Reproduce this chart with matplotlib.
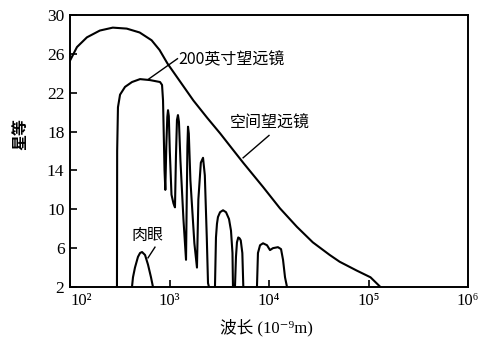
import matplotlib
matplotlib.use("Agg")
import matplotlib.pyplot as plt
import numpy as np

# curves: log10(wavelength / nm) and stellar magnitude
space_loglam = [2.00, 2.07, 2.17, 2.30, 2.43, 2.57, 2.70, 2.82, 2.90, 2.98, 3.11, 3.24,
                3.38, 3.51, 3.64, 3.74, 3.94, 4.11, 4.28, 4.44, 4.61, 4.71, 4.88, 5.02,
                5.10, 5.12]
space_mag = [25.3, 26.7, 27.7, 28.4, 28.7, 28.6, 28.2, 27.4, 26.4, 25.0, 23.1, 21.2,
             19.4, 17.8, 16.1, 14.8, 12.3, 10.1, 8.2, 6.6, 5.3, 4.6, 3.7, 3.0,
             2.2, 2.0]

# 200 inch telescope: main window with the absorption bands
tel_loglam = [2.472, 2.474, 2.482, 2.503, 2.553, 2.623, 2.704, 2.804, 2.905, 2.925,
              2.935, 2.950, 2.958, 2.968, 2.978, 2.985, 2.993, 3.003, 3.020, 3.040,
              3.055, 3.065, 3.075, 3.085, 3.095, 3.110, 3.140, 3.166, 3.172, 3.180,
              3.186, 3.194, 3.210, 3.250, 3.276, 3.290, 3.315, 3.337, 3.355, 3.375,
              3.387, 3.397]
tel_mag = [2.0, 16.0, 20.5, 21.8, 22.6, 23.1, 23.4, 23.3, 23.1, 22.8,
           21.2, 14.0, 12.0, 16.5, 19.5, 20.2, 19.6, 16.0, 11.5, 10.6,
           10.2, 15.5, 19.2, 19.7, 19.0, 15.0, 9.0, 4.8, 10.0, 16.5,
           18.5, 17.8, 13.0, 6.5, 4.0, 11.0, 14.8, 15.3, 13.5, 7.0,
           2.4, 2.0]

# 200 inch telescope: infrared windows
ir1_loglam = [3.457, 3.467, 3.477, 3.487, 3.508, 3.538, 3.568, 3.598, 3.618, 3.633, 3.638]
ir1_mag = [2.0, 7.1, 8.5, 9.2, 9.7, 9.9, 9.7, 9.0, 7.8, 5.5, 2.0]
ir2_loglam = [3.658, 3.668, 3.678, 3.691, 3.705, 3.716, 3.732, 3.742]
ir2_mag = [2.0, 5.1, 6.6, 7.1, 7.0, 6.8, 5.5, 2.0]
ir3_loglam = [3.879, 3.889, 3.910, 3.940, 3.980, 4.010, 4.040, 4.090, 4.121, 4.141, 4.161, 4.181]
ir3_mag = [2.0, 5.5, 6.3, 6.5, 6.3, 5.8, 6.0, 6.1, 5.9, 4.8, 3.0, 2.0]

# naked eye
eye_loglam = [2.623, 2.633, 2.653, 2.683, 2.704, 2.724, 2.754, 2.784, 2.814, 2.834]
eye_mag = [2.0, 3.0, 4.0, 5.1, 5.5, 5.6, 5.3, 4.3, 3.0, 2.0]

ytick_vals = [2, 6, 10, 14, 18, 22, 26, 30]
xtick_vals = [1e2, 1e3, 1e4, 1e5, 1e6]
xtick_labels = ["10²", "10³", "10⁴", "10⁵", "10⁶"]

serif = ["Liberation Serif", "DejaVu Serif", "Noto Sans CJK SC"]
cjk = ["Noto Sans CJK SC", "DejaVu Serif"]

fig = plt.figure(figsize=(4.78, 3.38), dpi=100)
ax = fig.add_axes([70 / 478, 1 - 287 / 338, 398 / 478, 272 / 338])

lw = 1.5
for lg, mg in [(space_loglam, space_mag), (tel_loglam, tel_mag), (ir1_loglam, ir1_mag),
               (ir2_loglam, ir2_mag), (ir3_loglam, ir3_mag), (eye_loglam, eye_mag)]:
    ax.plot(10 ** np.array(lg), mg, color="black", lw=lw, solid_joinstyle="round")

ax.set_xscale("log")
ax.set_xlim(1e2, 1e6)
ax.set_ylim(2, 30)
ax.set_xticks(xtick_vals)
ax.set_xticklabels(xtick_labels, family=serif, fontsize=12)
ax.minorticks_off()
ax.set_yticks(ytick_vals)
ax.set_yticklabels([str(v) for v in ytick_vals], family=serif, fontsize=12.5)
ax.tick_params(axis="both", direction="in", length=5, width=1.2, pad=4)
# first x label sits just right of the corner, clear of the "2"
ax.get_xticklabels()[0].set_horizontalalignment("left")
for s in ax.spines.values():
    s.set_linewidth(1.4)

# labels with leader lines
ax.plot([10 ** 2.79, 10 ** 3.08], [23.4, 25.5], color="black", lw=1.0)
ax.text(10 ** 3.085, 25.4, "200英寸望远镜", family=cjk, fontsize=11.5, ha="left", va="center")

ax.plot([10 ** 3.74, 10 ** 4.0], [15.3, 17.6], color="black", lw=1.0)
ax.text(10 ** 4.01, 18.9, "空间望远镜", family=cjk, fontsize=11.5, ha="center", va="center")

ax.plot([10 ** 2.784, 10 ** 2.854], [5.0, 6.1], color="black", lw=1.0)
ax.text(10 ** 2.78, 7.3, "肉眼", family=cjk, fontsize=11.5, ha="center", va="center")

fig.text(266 / 478, 1 - 328 / 338, "波长 (10⁻⁹m)", family=serif, fontsize=12,
         ha="center", va="center")
fig.text(20 / 478, 1 - 134 / 338, "星等", family=cjk, fontsize=11.5, rotation=90,
         ha="center", va="center", fontweight="bold")

fig.savefig("out.png", dpi=100)
